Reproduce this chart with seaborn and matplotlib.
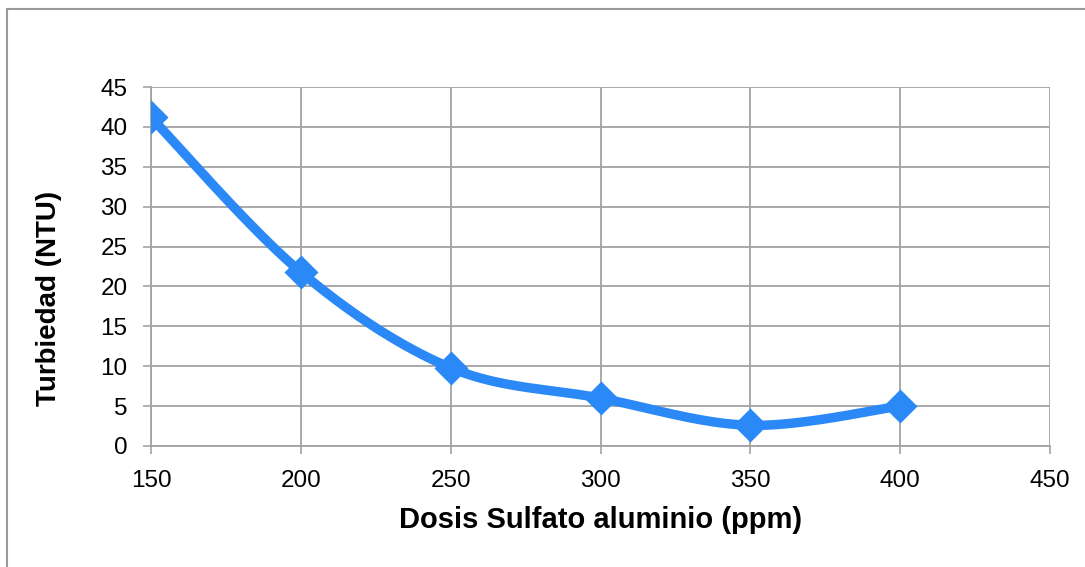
import numpy as np
import pandas as pd
import matplotlib
matplotlib.use("Agg")
import matplotlib.pyplot as plt
import seaborn as sns
from matplotlib.patches import Rectangle

# Data
dosis = [150, 200, 250, 300, 350, 400]
turbiedad = [41.2, 21.8, 9.8, 6.0, 2.6, 5.0]
x_ticks = [150, 200, 250, 300, 350, 400, 450]
y_ticks = [0, 5, 10, 15, 20, 25, 30, 35, 40, 45]
x_label = "Dosis Sulfato aluminio (ppm)"
y_label = "Turbiedad (NTU)"

line_color = "#2B88F7"
grid_color = "#A3A3A3"


def smooth_curve(xs, ys, n=40):
    """Excel-style smoothed line (Catmull-Rom as cubic Bezier)."""
    P = np.column_stack([xs, ys]).astype(float)
    out = []
    for i in range(len(P) - 1):
        p0 = P[i - 1] if i > 0 else P[i]
        p1, p2 = P[i], P[i + 1]
        p3 = P[i + 2] if i + 2 < len(P) else P[i + 1]
        c1 = p1 + (p2 - p0) / 6.0
        c2 = p2 - (p3 - p1) / 6.0
        t = np.linspace(0, 1, n)[:, None]
        seg = ((1 - t) ** 3) * p1 + 3 * ((1 - t) ** 2) * t * c1 + 3 * (1 - t) * t ** 2 * c2 + t ** 3 * p2
        out.append(seg if i == 0 else seg[1:])
    S = np.vstack(out)
    return S[:, 0], S[:, 1]


sns.set_style("white")
plt.rcParams["font.family"] = ["Liberation Sans", "DejaVu Sans"]

fig = plt.figure(figsize=(10.85, 5.67), dpi=100)
ax = fig.add_axes([151 / 1085, 1 - 446 / 567, (1050 - 151) / 1085, (446 - 87) / 567])

sx, sy = smooth_curve(dosis, turbiedad)
curve = pd.DataFrame({"x": sx, "y": sy})
pts = pd.DataFrame({"x": dosis, "y": turbiedad})

sns.lineplot(data=curve, x="x", y="y", ax=ax, color=line_color, linewidth=6.8,
             sort=False, estimator=None, zorder=3, solid_capstyle="round")
sns.scatterplot(data=pts, x="x", y="y", ax=ax, color=line_color, marker="D",
                s=300, linewidth=0, zorder=4)

ax.set_xlim(150, 450)
ax.set_ylim(0, 45)
ax.set_xticks(x_ticks)
ax.set_yticks(y_ticks)
ax.grid(True, color=grid_color, linewidth=1.3)
ax.set_axisbelow(True)
for side in ["top", "right"]:
    ax.spines[side].set_visible(False)
for side in ["left", "bottom"]:
    ax.spines[side].set_color(grid_color)
    ax.spines[side].set_linewidth(1.3)
ax.tick_params(axis="both", which="major", direction="out", length=5.5, width=1.2,
               color=grid_color, labelsize=17.5, labelcolor="black",
               bottom=True, left=True)
ax.tick_params(axis="x", pad=12)
ax.tick_params(axis="y", pad=11.5)
ax.set_xlabel(x_label, fontsize=21, fontweight="bold", labelpad=10, color="black")
ax.set_ylabel(y_label, fontsize=20, fontweight="bold", color="black")
ax.yaxis.set_label_coords(-0.099, 0.412)

# outer chart border
fig.patches.append(Rectangle((7 / 1085, -0.1), 1.2, 1 - 9 / 567 + 0.1,
                             transform=fig.transFigure, fill=False,
                             edgecolor="#9A9A9A", linewidth=1.5, zorder=0))

fig.savefig("out.png", dpi=100)
